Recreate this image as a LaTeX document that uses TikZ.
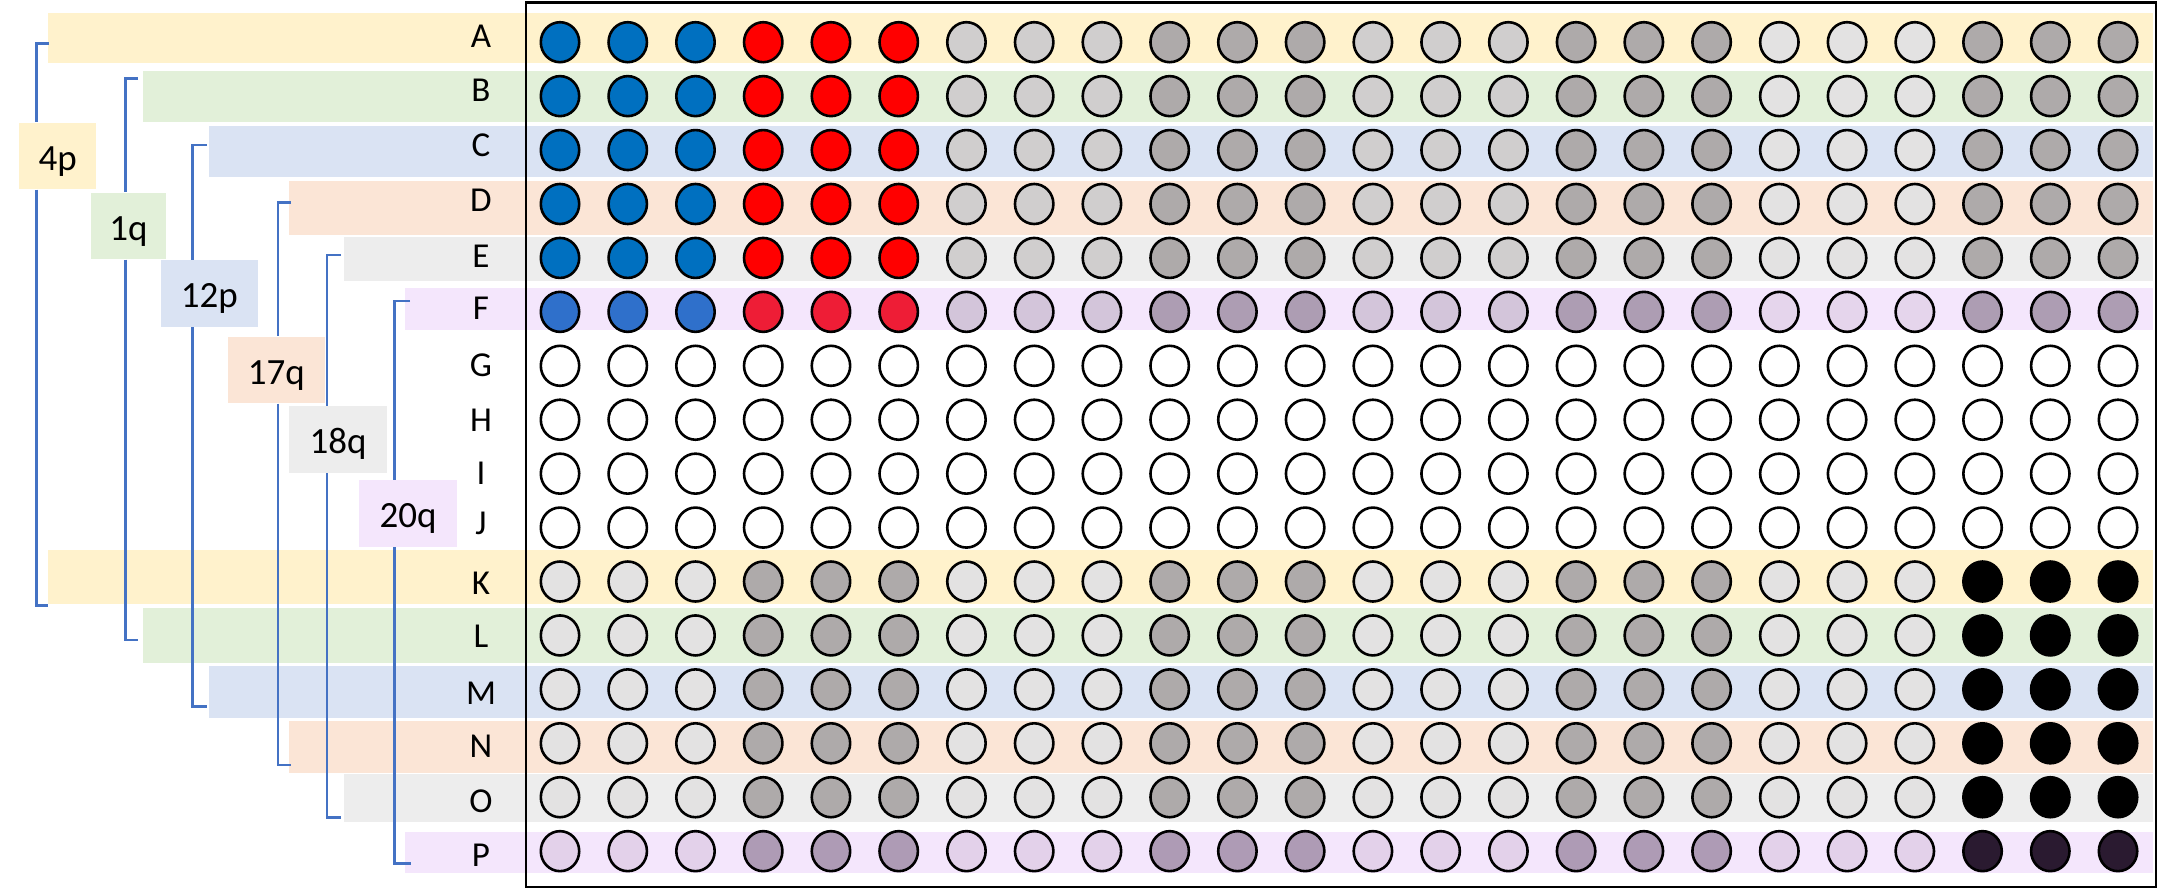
\documentclass[tikz,border=0pt]{standalone}
\usepackage{fontspec}
\setmainfont{Carlito}
\definecolor{bandA}{HTML}{FFF2CC}
\definecolor{bandB}{HTML}{E2F0D9}
\definecolor{bandC}{HTML}{DAE3F3}
\definecolor{bandD}{HTML}{FBE5D6}
\definecolor{bandE}{HTML}{EDEDED}
\definecolor{bandF}{HTML}{F4E6FC}
\definecolor{brblue}{HTML}{4472C4}
\definecolor{cblue}{HTML}{0070C0}
\definecolor{cred}{HTML}{FF0000}
\definecolor{cL}{HTML}{D0CECE}
\definecolor{cD}{HTML}{AEAAAA}
\definecolor{cVL}{HTML}{E3E2E2}
\definecolor{fblue}{HTML}{2F70CB}
\definecolor{fred}{HTML}{EE1D36}
\definecolor{fL}{HTML}{D3C5DA}
\definecolor{fD}{HTML}{AD9DB3}
\definecolor{fVL}{HTML}{E5D5EC}
\definecolor{pL}{HTML}{E3D1EA}
\definecolor{pD}{HTML}{AE9BB5}
\definecolor{pK}{HTML}{2A1A30}
\begin{document}
\begin{tikzpicture}[x=0.5pt,y=-0.5pt,
  circ/.style={line width=1.3pt, draw=black},
  br/.style={draw=brblue, line width=1.3pt},
  lab/.style={inner sep=0pt, font=\fontsize{18.5}{20}\selectfont, text height=16pt, text depth=1.8pt, minimum height=33.25pt},
  rowl/.style={font=\fontsize{17.5}{19}\selectfont, text height=11.2pt, text depth=0pt, inner sep=0pt}]
\useasboundingbox (0,0) rectangle (2177,895);
% bands
\fill[bandA] (47.5,12.7) rectangle (2152.5,63.3);
\fill[bandB] (142.5,70.7) rectangle (2152.5,122);
\fill[bandC] (209.3,125.7) rectangle (2152.5,177);
\fill[bandD] (288.6,181) rectangle (2152.5,234.7);
\fill[bandE] (344,236.7) rectangle (2152.5,281);
\fill[bandF] (405.3,288.3) rectangle (2152.5,330);
\fill[bandA] (47.5,550) rectangle (2152.5,604);
\fill[bandB] (142.5,608) rectangle (2152.5,662.7);
\fill[bandC] (209.3,666) rectangle (2152.5,717.7);
\fill[bandD] (288.6,721) rectangle (2152.5,772.7);
\fill[bandE] (344,774) rectangle (2152.5,821.7);
\fill[bandF] (405.3,831.7) rectangle (2152.5,873);
% circles
\def\colsU{cblue,cred,cL,cD,cL,cD,cVL,cD}
\def\colsF{fblue,fred,fL,fD,fL,fD,fVL,fD}
\def\colsW{white,white,white,white,white,white,white,white}
\def\colsK{cVL,cD,cVL,cD,cVL,cD,cVL,black}
\def\colsP{pL,pD,pL,pD,pL,pD,pL,pK}
\foreach \i/\t in {0/U,1/U,2/U,3/U,4/U,5/F,6/W,7/W,8/W,9/W,10/K,11/K,12/K,13/K,14/K,15/P}{
  \pgfmathsetmacro\yy{42.2+53.93*\i}
  \edef\curlist{\csname cols\t\endcsname}
  \foreach \c [count=\g from 0] in \curlist {
    \foreach \j in {0,1,2}{
      \pgfmathsetmacro\xx{560+67.74*(3*\g+\j)}
      \draw[circ, fill=\c] (\xx,\yy) ellipse [x radius=19.2, y radius=20];
    }
  }
}
% frame
\draw[line width=1.4pt] (526,2.5) rectangle (2156,887);
% row letters
\foreach \l/\y in {A/36.7,B/90,C/145,D/200,E/256.7,F/308.3,G/365,H/420,I/473.3,J/523,K/583,L/636.7,M/693,N/746.7,O/801.7,P/855}
  \node[rowl] (l\l) at (481,\y) {\l};
% label boxes
\node[lab, fill=bandA, minimum width=38.35pt] (p4) at (57.65,155.85) {4p};
\node[lab, fill=bandB, minimum width=37.65pt] (q1) at (128.35,226) {1q};
\node[lab, fill=bandC, minimum width=48.6pt] (p12) at (209.3,293.35) {12p};
\node[lab, fill=bandD, minimum width=48.6pt] (q17) at (276.4,370) {17q};
\node[lab, fill=bandE, minimum width=48.7pt] (q18) at (338,439.7) {18q};
\node[lab, fill=bandF, minimum width=48.7pt] (q20) at (408,513.35) {20q};
% brackets
\coordinate (v1) at (36.5,0);   \coordinate (t1) at (49,43.7);   \coordinate (b1) at (48,605.7);
\coordinate (v2) at (125.5,0);  \coordinate (t2) at (138,78.3);  \coordinate (b2) at (137.5,640);
\coordinate (v3) at (192.2,0);  \coordinate (t3) at (207,145);   \coordinate (b3) at (207,706.7);
\coordinate (v4) at (277.8,0);  \coordinate (t4) at (291,202.7); \coordinate (b4) at (291,765);
\coordinate (v5) at (327,0);    \coordinate (t5) at (341,255);   \coordinate (b5) at (341,817.3);
\coordinate (v6) at (394.3,0);  \coordinate (t6) at (410,301);   \coordinate (b6) at (410.6,863.3);
\draw[br] (t1) -| (v1 |- p4.north);  \draw[br] (v1 |- p4.south) |- (b1);
\draw[br] (t2) -| (v2 |- q1.north);  \draw[br] (v2 |- q1.south) |- (b2);
\draw[br] (t3) -| (v3 |- p12.north); \draw[br] (v3 |- p12.south) |- (b3);
\draw[br] (t4) -| (v4 |- q17.north); \draw[br] (v4 |- q17.south) |- (b4);
\draw[br] (t5) -| (v5 |- q18.north); \draw[br] (v5 |- q18.south) |- (b5);
\draw[br] (t6) -| (v6 |- q20.north); \draw[br] (v6 |- q20.south) |- (b6);
\end{tikzpicture}
\end{document}
